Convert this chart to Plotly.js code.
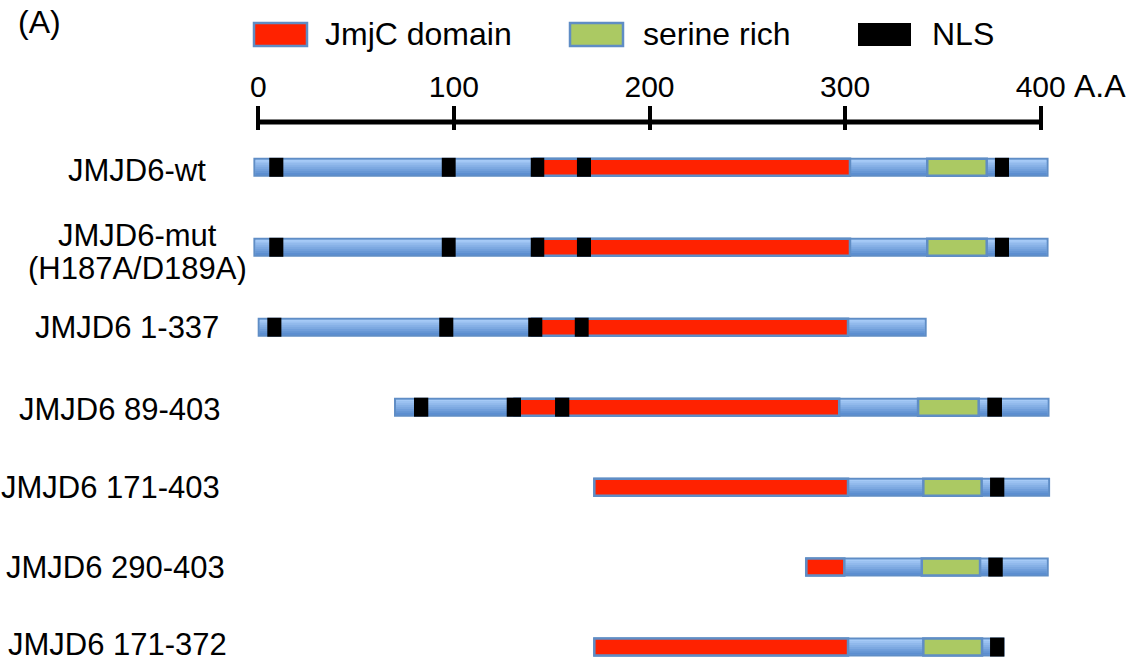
<!DOCTYPE html>
<html><head><meta charset="utf-8">
<script src="https://cdn.plot.ly/plotly-3.0.1.min.js"></script>
<style>html,body{margin:0;padding:0;background:#fff;} #chart{width:1132px;height:662px;}</style>
</head><body><div id="chart"></div>
<script>
// ---------------- DATA ----------------
const constructs = ["JMJD6-wt", "JMJD6-mut<br>(H187A/D189A)", "JMJD6 1-337", "JMJD6 89-403",
                    "JMJD6 171-403", "JMJD6 290-403", "JMJD6 171-372"];
const backboneStart = [-2, -2, 0.2, 69.9, 171.8, 280, 171.8];
const backboneEnd   = [403.5, 403.5, 341.2, 404, 404.3, 403.6, 381];
const jmjcStart = [141, 141, 140, 131, 171.8, 280.2, 171.8];
const jmjcEnd   = [302.5, 302.5, 301.5, 297, 301.5, 299.6, 301.5];
const serineStart = [342, 342, null, 337.3, 340, 339.2, 340];
const serineEnd   = [372.4, 372.4, null, 368.3, 369.8, 369, 370];
const nlsRow   = [0, 0, 0, 0, 0, 1, 1, 1, 1, 1, 2, 2, 2, 2, 3, 3, 3, 3, 4, 5, 6];
const nlsStart = [5.6, 93.8, 139.3, 162.9, 376.6, 5.6, 93.8, 139.3, 162.9, 376.6,
                  4.6, 92.5, 138, 161.8, 79.6, 127, 151.7, 372.7, 374.1, 373.2, 374.1];
const nlsEnd   = [12.8, 100.9, 146.2, 170.1, 383.8, 12.8, 100.9, 146.2, 170.1, 383.8,
                  11.8, 99.7, 145.2, 168.9, 86.9, 134.3, 159, 380.2, 381.4, 380.6, 381.4];
const scaleTicks = [0, 100, 200, 300, 400];
const scaleTickText = ["0", "100", "200", "300", "400"];
const scaleUnit = "A.A";
const legendNames = ["JmjC domain", "serine rich", "NLS"];
const panelLabel = "(A)";

// ---------------- LAYOUT / STYLE ----------------
const W = 1132, H = 662;
const FONT = "Liberation Sans, Arial, Helvetica, sans-serif";
const PX0 = 258.3, PX400 = 1040.7;               // pixel of axis 0 and 400
const pxPerAA = (PX400 - PX0) / 400;
const xRange = [-PX0 / pxPerAA, (W - PX0) / pxPerAA];
const ROW0 = 167.3, STEP = 79.96;                // pixel of first row, row spacing
const yRange = [(H - ROW0) / STEP, -ROW0 / STEP];
const py = p => 1 - p / H, px = p => p / W;

const RED = "rgb(255,34,0)", GREEN = "rgb(171,201,99)", BORDER = "rgb(95,141,197)";
const TOP = [166, 202, 246], BOT = [92, 142, 208];
const barH = 17 / STEP, nlsH = 19 / STEP;
const rows = constructs.map((_, i) => i);

const traces = [];
// backbone base
traces.push({type: "bar", orientation: "h", y: rows, base: backboneStart,
  x: backboneEnd.map((e, i) => e - backboneStart[i]), width: barH,
  marker: {color: "rgb(125,170,225)", line: {color: BORDER, width: 2}}, hoverinfo: "skip", showlegend: false});
// gradient bands
const NB = 8, innerH = (barH - 2 / STEP), bandH = innerH / NB, inset = 1 / pxPerAA;
for (let k = 0; k < NB; k++) {
  const t = k / (NB - 1);
  const c = TOP.map((v, j) => Math.round(v + (BOT[j] - v) * t));
  traces.push({type: "bar", orientation: "h", y: rows,
    base: backboneStart.map(s => s + inset),
    x: backboneEnd.map((e, i) => e - backboneStart[i] - 2 * inset),
    offset: -innerH / 2 + k * bandH, width: bandH * 1.15,
    marker: {color: `rgb(${c.join(",")})`, line: {width: 0}}, hoverinfo: "skip", showlegend: false});
}
// JmjC domain
const jr = rows.filter(i => jmjcStart[i] !== null);
traces.push({type: "bar", orientation: "h", name: legendNames[0], y: jr,
  base: jr.map(i => jmjcStart[i]), x: jr.map(i => jmjcEnd[i] - jmjcStart[i]), width: barH,
  marker: {color: RED, line: {color: BORDER, width: 2.5}}, hoverinfo: "skip", showlegend: false});
// serine rich
const sr = rows.filter(i => serineStart[i] !== null);
traces.push({type: "bar", orientation: "h", name: legendNames[1], y: sr,
  base: sr.map(i => serineStart[i]), x: sr.map(i => serineEnd[i] - serineStart[i]), width: barH,
  marker: {color: GREEN, line: {color: BORDER, width: 2.5}}, hoverinfo: "skip", showlegend: false});
// NLS
traces.push({type: "bar", orientation: "h", name: legendNames[2], y: nlsRow, base: nlsStart,
  x: nlsEnd.map((e, i) => e - nlsStart[i]), width: nlsH,
  marker: {color: "#000", line: {width: 0}}, hoverinfo: "skip", showlegend: false});

// annotations
const labelCenterPx = [137, 137, 127, 119.5, 110, 115.5, 117];
const labelShiftPx = [-3, -4, 0, -2, 0, 0, 3];
const LINE_GAP = 33;
const annotations = [];
constructs.forEach((name, i) => {
  const lines = name.split("<br>");
  lines.forEach((ln, k) => {
    annotations.push({text: ln, xref: "paper", x: px(labelCenterPx[i]), yref: "y", y: i,
      xanchor: "center", yanchor: "middle", height: 34,
      yshift: labelShiftPx[i] - (k - (lines.length - 1) / 2) * LINE_GAP,
      showarrow: false, font: {family: FONT, size: 31, color: "#000"}});
  });
});
annotations.push({text: scaleUnit, xref: "x", x: scaleTicks[scaleTicks.length - 1], xshift: 31,
  xanchor: "left", yref: "paper", y: py(86), yanchor: "middle", showarrow: false,
  font: {family: FONT, size: 32, color: "#000"}});
annotations.push({text: panelLabel, xref: "paper", x: px(16), xanchor: "left", yref: "paper", y: py(22),
  yanchor: "middle", showarrow: false, font: {family: FONT, size: 32, color: "#000"}});

// legend (drawn)
const legBoxX = [254, 570, 858], legTextX = [323, 641, 930], legColors = [RED, GREEN, "#000"];
const shapes = [];
legendNames.forEach((n, i) => {
  shapes.push({type: "rect", xref: "paper", yref: "paper", x0: px(legBoxX[i]), x1: px(legBoxX[i] + 53),
    y0: py(23), y1: py(46), fillcolor: legColors[i],
    line: {color: i < 2 ? BORDER : "#000", width: i < 2 ? 2.5 : 0}});
  annotations.push({text: n, xref: "paper", x: px(legTextX[i]), xanchor: "left", yref: "paper", y: py(34),
    yanchor: "middle", showarrow: false, font: {family: FONT, size: 32, color: "#000"}});
});
// scale bar line
shapes.push({type: "line", xref: "x", yref: "paper", x0: scaleTicks[0], x1: scaleTicks[scaleTicks.length - 1],
  y0: py(122), y1: py(122), line: {color: "#000", width: 5}});

const layout = {
  width: W, height: H, margin: {l: 0, r: 0, t: 0, b: 0},
  paper_bgcolor: "#fff", plot_bgcolor: "#fff",
  barmode: "overlay", hovermode: false, showlegend: false,
  xaxis: {range: xRange, side: "top", anchor: "free", position: py(130),
    tickvals: scaleTicks, ticktext: scaleTickText, ticks: "outside", ticklen: 24, tickwidth: 4, tickcolor: "#000",
    ticklabelstandoff: -3,
    showline: false, showgrid: false, zeroline: false, fixedrange: true,
    tickfont: {family: FONT, size: 30, color: "#000"}},
  yaxis: {range: yRange, visible: false, showgrid: false, zeroline: false, fixedrange: true},
  shapes: shapes, annotations: annotations
};
Plotly.newPlot("chart", traces, layout, {displayModeBar: false, staticPlot: true});
</script></body></html>
